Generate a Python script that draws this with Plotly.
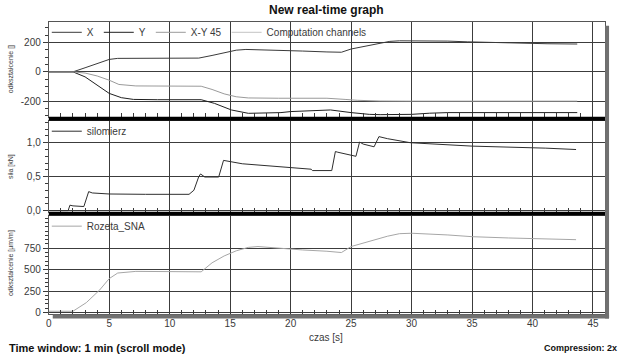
import plotly.graph_objects as go
from plotly.subplots import make_subplots

# ---- data -------------------------------------------------------------
# displacement channels [ ]
x_t = [0, 2.0, 3, 4, 5, 5.7, 7, 9, 11, 12.4, 13.5, 14.5, 15.5, 16.3, 18, 19.5,
       21, 23, 24.2, 25, 26, 27, 28.2, 29, 31.5, 33, 34.6, 37.2, 41.2, 43.7]
x_v = [0, 0, 28, 58, 85, 92, 92, 92, 93, 94, 112, 132, 148, 153, 150, 146,
       142, 136, 134, 156, 172, 192, 208, 212, 212, 210, 205, 198, 192, 190]

y_t = [0, 2.0, 3, 4, 5, 6, 7, 9, 12.6, 13.7, 15.1, 16.5, 19.2, 20, 22, 23.3,
       25, 26.5, 27.4, 30, 31.5, 33, 43.7]
y_v = [0, 0, -34, -91, -147, -176, -188, -190, -190, -215, -260, -283, -278,
       -271, -262, -260, -278, -290, -292, -290, -282, -278, -278]

xy45_t = [0, 2.0, 3, 4, 5, 5.8, 7.2, 9, 12.6, 13.5, 14.5, 15.5, 16.5, 19, 23,
          24.5, 25.5, 27.4, 30, 43.7]
xy45_v = [0, 0, -8, -28, -57, -86, -96, -98, -98, -120, -150, -170, -178, -180,
          -180, -188, -194, -199, -200, -200]

# force gauge [kN]
sil_t = [0, 1.6, 1.75, 2.0, 2.9, 3.3, 3.6, 5, 8, 11.6, 12.0, 12.4, 12.55, 12.9,
         14.05, 14.45, 16, 19, 21.7, 21.8, 23.4, 23.7, 23.9, 25.4, 25.7, 26.0,
         26.9, 27.3, 28, 29.9, 35, 41.1, 43.6]
sil_v = [0, 0, 0.08, 0.07, 0.06, 0.28, 0.26, 0.245, 0.24, 0.24, 0.30, 0.50,
         0.54, 0.495, 0.495, 0.74, 0.69, 0.65, 0.61, 0.59, 0.59, 0.87, 0.86,
         0.80, 1.01, 0.98, 0.94, 1.09, 1.06, 1.0, 0.95, 0.92, 0.90]

# strain rosette [µm/m]
roz_t = [0, 2.0, 3.1, 4.2, 5.0, 5.7, 7.2, 9, 11, 12.6, 13.5, 14.5, 15.5, 16.5,
         17.3, 19, 21, 23, 24.2, 25, 26, 27, 28, 29, 30, 33, 35, 38, 40, 43.6]
roz_v = [15, 15, 115, 262, 396, 461, 480, 478, 470, 475, 580, 660, 720, 760,
         770, 750, 730, 715, 700, 770, 810, 850, 890, 920, 925, 905, 885, 870,
         860, 850]

p1_ticks = [-200, 0, 200]
p1_text = ["-200", "0", "200"]
p2_ticks = [0.0, 0.5, 1.0]
p2_text = ["0,0", "0,5", "1,0"]
p3_ticks = [0, 250, 500, 750]
p3_text = ["0", "250", "500", "750"]
x_ticks = list(range(0, 50, 5))

# ---- layout helpers ---------------------------------------------------
W, H = 619, 363
LEFT, RIGHT = 46, 605
PANELS = [(22, 118), (122, 214), (218, 318)]


def fx(p):
    return p / W


def fy(p):
    return 1 - p / H


FONT = "Liberation Sans, Arial, sans-serif"
TXT = "#3a3a3a"
GRID = "#3c3c3c"

fig = make_subplots(rows=3, cols=1, shared_xaxes=True)

fig.add_trace(go.Scatter(x=x_t, y=x_v, name="X", mode="lines",
                         line=dict(color="#3a3a3a", width=1), legend="legend"),
              row=1, col=1)
fig.add_trace(go.Scatter(x=y_t, y=y_v, name="Y", mode="lines",
                         line=dict(color="#202020", width=1), legend="legend"),
              row=1, col=1)
fig.add_trace(go.Scatter(x=xy45_t, y=xy45_v, name="X-Y 45", mode="lines",
                         line=dict(color="#9a9a9a", width=1), legend="legend"),
              row=1, col=1)
fig.add_trace(go.Scatter(x=[None], y=[None], name="Computation channels",
                         mode="lines", line=dict(color="#c4c4c4", width=1),
                         legend="legend"),
              row=1, col=1)
fig.add_trace(go.Scatter(x=sil_t, y=sil_v, name="silomierz", mode="lines",
                         line=dict(color="#2e2e2e", width=1), legend="legend2"),
              row=2, col=1)
fig.add_trace(go.Scatter(x=roz_t, y=roz_v, name="Rozeta_SNA", mode="lines",
                         line=dict(color="#a6a6a6", width=1), legend="legend3"),
              row=3, col=1)

tickfont = dict(family=FONT, size=10, color=TXT)

for i in range(1, 4):
    top, bot = PANELS[i - 1]
    fig.update_xaxes(
        row=i, col=1, range=[0, 46], domain=[fx(LEFT), fx(RIGHT)],
        tickvals=x_ticks, ticks="inside", ticklen=4, tickcolor=TXT,
        minor=dict(dtick=1, tick0=0, ticks="inside", ticklen=4, tickcolor=TXT,
                   showgrid=False),
        showgrid=True, gridcolor=GRID, gridwidth=1, zeroline=False,
        showline=True, linecolor="#555555", mirror=True,
        showticklabels=(i == 3), tickfont=tickfont,
    )
    fig.update_yaxes(row=i, col=1, domain=[fy(bot), fy(top)])

common_y = dict(ticks="outside", ticklen=5, tickcolor=TXT, showgrid=True,
                gridcolor=GRID, gridwidth=1, zeroline=False, showline=True,
                linecolor="#555555", mirror=True, tickfont=tickfont)

fig.update_yaxes(row=1, col=1, range=[-306, 342], tickvals=p1_ticks,
                 ticktext=p1_text,
                 minor=dict(dtick=50, tick0=0, ticks="outside", ticklen=3,
                            tickcolor=TXT, showgrid=False), **common_y)
fig.update_yaxes(row=2, col=1, range=[-0.015, 1.325], tickvals=p2_ticks,
                 ticktext=p2_text,
                 minor=dict(dtick=0.1, tick0=0, ticks="outside", ticklen=3,
                            tickcolor=TXT, showgrid=False), **common_y)
fig.update_yaxes(row=3, col=1, range=[-23, 1131], tickvals=p3_ticks,
                 ticktext=p3_text,
                 minor=dict(dtick=50, tick0=0, ticks="outside", ticklen=3,
                            tickcolor=TXT, showgrid=False), **common_y)

legend_style = dict(orientation="h", xanchor="left", yanchor="top",
                    bgcolor="rgba(0,0,0,0)", borderwidth=0,
                    font=dict(family=FONT, size=10, color=TXT),
                    itemwidth=30, tracegroupgap=0)

fig.update_layout(
    width=W, height=H,
    margin=dict(l=0, r=0, t=0, b=0),
    paper_bgcolor="white", plot_bgcolor="white",
    font=dict(family=FONT, size=10, color=TXT),
    legend=dict(x=fx(LEFT - 2), y=fy(PANELS[0][0] - 4), **legend_style),
    legend2=dict(x=fx(LEFT - 2), y=fy(PANELS[1][0] - 4), **legend_style),
    legend3=dict(x=fx(LEFT - 2), y=fy(PANELS[2][0] - 4), **legend_style),
)

# separators between panels and the frame shadow
shapes = [
    dict(type="rect", xref="paper", yref="paper",
         x0=fx(LEFT), x1=fx(RIGHT), y0=fy(122), y1=fy(118),
         fillcolor="black", line=dict(width=0)),
    dict(type="rect", xref="paper", yref="paper",
         x0=fx(LEFT), x1=fx(RIGHT), y0=fy(218), y1=fy(214),
         fillcolor="black", line=dict(width=0)),
    dict(type="rect", xref="paper", yref="paper",
         x0=fx(RIGHT), x1=fx(RIGHT + 4), y0=fy(322), y1=fy(26),
         fillcolor="#707070", line=dict(width=0)),
    dict(type="rect", xref="paper", yref="paper",
         x0=fx(LEFT + 4), x1=fx(RIGHT + 4), y0=fy(322), y1=fy(318),
         fillcolor="#707070", line=dict(width=0)),
]
fig.update_layout(shapes=shapes)

ann = [
    dict(text="<b>New real-time graph</b>", x=fx(325), y=fy(10),
         font=dict(family=FONT, size=12, color="#111111")),
    dict(text="czas [s]", x=fx(325), y=fy(341),
         font=dict(family=FONT, size=10, color=TXT)),
    dict(text="<b>Time window: 1 min (scroll mode)</b>", x=fx(4), y=fy(352),
         xanchor="left", font=dict(family=FONT, size=11, color="#111111")),
    dict(text="<b>Compression: 2x</b>", x=fx(619), y=fy(352), xanchor="right",
         font=dict(family=FONT, size=9, color="#111111")),
    dict(text="odkształcenie []", x=fx(8), y=fy(70), textangle=-90,
         font=dict(family=FONT, size=7, color=TXT)),
    dict(text="siła [kN]", x=fx(8), y=fy(168), textangle=-90,
         font=dict(family=FONT, size=7, color=TXT)),
    dict(text="odkształcenie [µm/m]", x=fx(8), y=fy(266), textangle=-90,
         font=dict(family=FONT, size=7, color=TXT)),
]
for a in ann:
    a.setdefault("xanchor", "center")
    fig.add_annotation(xref="paper", yref="paper", showarrow=False,
                       yanchor="middle", **a)

fig.write_html("out.html")
